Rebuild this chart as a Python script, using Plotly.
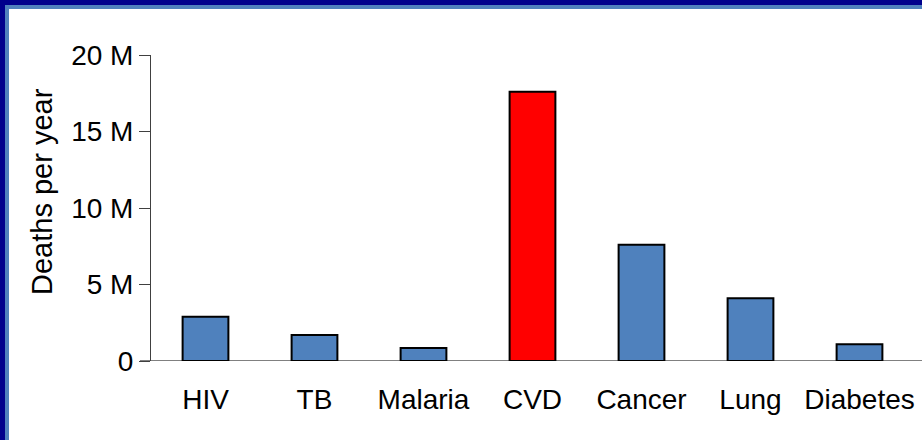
import plotly.graph_objects as go

# Annual deaths by cause (millions)
causes = ["HIV", "TB", "Malaria", "CVD", "Cancer", "Lung", "Diabetes"]
deaths_m = [2.9, 1.7, 0.85, 17.6, 7.6, 4.1, 1.1]
bar_colors = ["#4F81BD", "#4F81BD", "#4F81BD", "#FF0000", "#4F81BD", "#4F81BD", "#4F81BD"]

y_ticks = [0, 5, 10, 15, 20]
y_tick_text = ["0", "5 M", "10 M", "15 M", "20 M"]
y_title = "Deaths per year"

W, H = 922, 440
ML, MR, MT, MB = 151, 8, 55, 79
PW, PH = W - ML - MR, H - MT - MB


def px_x(p):
    return (p - ML) / PW


def px_y(p):
    return 1 - (p - MT) / PH


FONT = "Liberation Sans, Arial, sans-serif"

fig = go.Figure(
    go.Bar(
        x=causes,
        y=deaths_m,
        marker=dict(color=bar_colors, line=dict(color="black", width=2)),
    )
)

shapes = [
    # frame: dark navy outer band, lighter blue inner band (top and left)
    dict(type="rect", xref="paper", yref="paper", x0=px_x(0), x1=px_x(W), y0=px_y(0), y1=px_y(5),
         fillcolor="#00008C", line=dict(width=0), layer="above"),
    dict(type="rect", xref="paper", yref="paper", x0=px_x(5), x1=px_x(W), y0=px_y(5), y1=px_y(9),
         fillcolor="#4F81BD", line=dict(width=0), layer="above"),
    dict(type="rect", xref="paper", yref="paper", x0=px_x(0), x1=px_x(5), y0=px_y(0), y1=px_y(H),
         fillcolor="#00008C", line=dict(width=0), layer="above"),
    dict(type="rect", xref="paper", yref="paper", x0=px_x(5), x1=px_x(9), y0=px_y(5), y1=px_y(H),
         fillcolor="#4F81BD", line=dict(width=0), layer="above"),
    # baseline
    dict(type="line", xref="paper", yref="y", x0=px_x(140), x1=px_x(W), y0=0, y1=0,
         line=dict(color="#808080", width=2), layer="below"),
]

fig.update_layout(
    width=W,
    height=H,
    margin=dict(l=ML, r=MR, t=MT, b=MB),
    paper_bgcolor="white",
    plot_bgcolor="white",
    showlegend=False,
    bargap=0.58,
    font=dict(family=FONT, size=28, color="black"),
    shapes=shapes,
    annotations=[
        dict(text=y_title, textangle=-90, xref="paper", yref="paper",
             x=px_x(42), y=px_y(192), xanchor="center", yanchor="middle",
             showarrow=False, font=dict(size=29)),
    ],
    xaxis=dict(
        range=[-0.5, 6.5],
        showline=False,
        showgrid=False,
        zeroline=False,
        ticks="",
        tickfont=dict(size=28),
        ticklabelstandoff=19,
    ),
    yaxis=dict(
        range=[0, 20],
        tickvals=y_ticks,
        ticktext=y_tick_text,
        showline=True,
        linecolor="#404040",
        linewidth=1,
        ticks="outside",
        ticklen=11,
        tickcolor="#404040",
        tickwidth=1,
        showgrid=False,
        zeroline=False,
        tickfont=dict(size=28),
    ),
)

fig.write_html("out.html")
